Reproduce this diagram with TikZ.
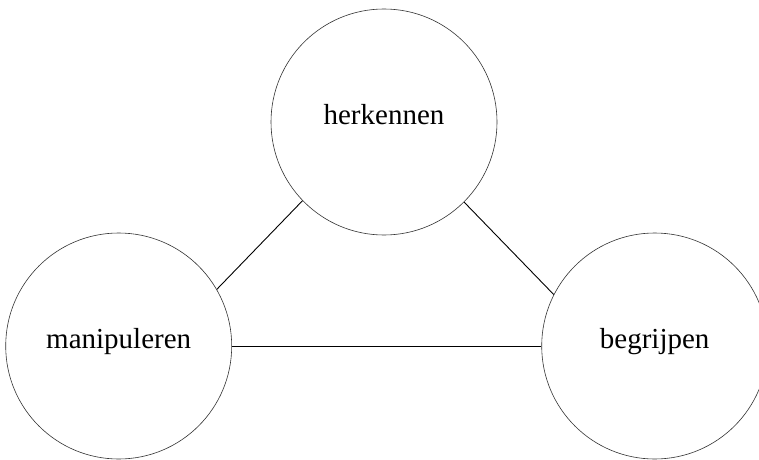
\documentclass[tikz,border=0pt]{standalone}
\usepackage{fontspec}
\setmainfont{Liberation Serif}
\begin{document}
\begin{tikzpicture}[x=1pt,y=1pt,
  bubble/.style={circle,draw=black!80,line width=0.6pt,minimum size=226pt,inner sep=0pt,
    font=\fontsize{29}{34}\selectfont,text height=5pt,text depth=0pt},
  link/.style={draw=black,line width=0.9pt}]
\useasboundingbox (0,0) rectangle (759,459);
\clip (0,0) rectangle (759,459);
\fill[white] (0,0) rectangle (759,459);
\node[bubble] (top) at (384,337) {herkennen};
\node[bubble] (left) at (118.7,113) {manipuleren};
\node[bubble] (right) at (654.7,113) {begrijpen};
\draw[link] (left.30) -- (top.224);
\draw[link] (top.315) -- (right.153);
\draw[link] (left.0) -- (right.180);
\end{tikzpicture}
\end{document}
